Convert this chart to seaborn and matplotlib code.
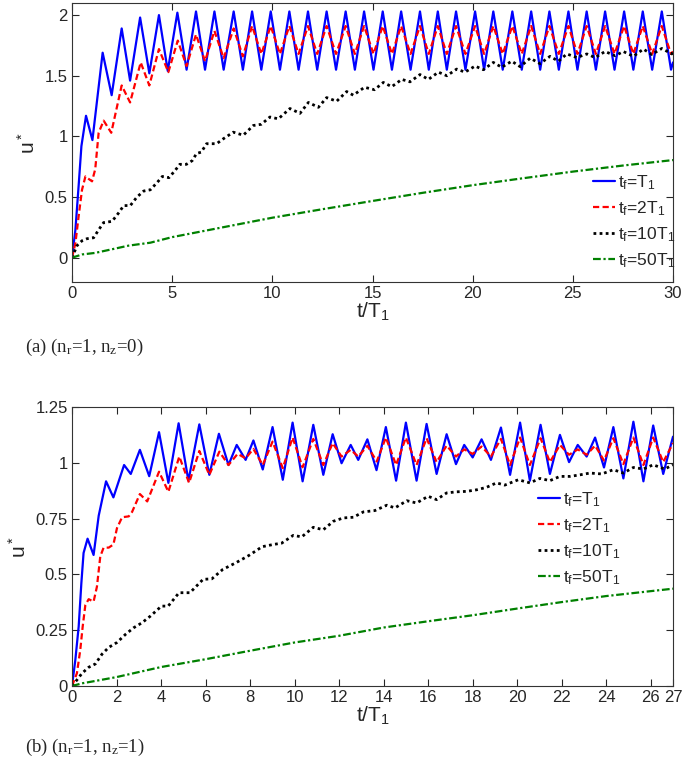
import matplotlib
matplotlib.use("Agg")
import matplotlib.pyplot as plt
import seaborn as sns

# ---- panel (a): n_r=1, n_z=0 ----
ta_blue = [0, 0.17, 0.33, 0.47, 0.70, 1.02, 1.53, 1.98, 2.48, 2.90, 3.40, 3.86, 4.34, 4.78, 5.26, 5.72,
           6.19, 6.64, 7.11, 7.57, 8.07, 8.53, 8.99, 9.45, 9.92, 10.38, 10.85, 11.31, 11.78, 12.24,
           12.71, 13.18, 13.66, 14.12, 14.58, 15.05, 15.51, 15.97, 16.43, 16.90, 17.37, 17.81, 18.26,
           18.71, 19.17, 19.64, 20.12, 20.57, 21.03, 21.50, 21.98, 22.45, 22.92, 23.37, 23.83, 24.30,
           24.78, 25.23, 25.69, 26.15, 26.61, 27.08, 27.56, 28.02, 28.49, 28.96, 29.44, 29.90, 30.0]
ua_blue = [0, 0.23, 0.59, 0.92, 1.17, 0.97, 1.69, 1.34, 1.89, 1.46, 1.98, 1.52, 2.00, 1.54, 2.02, 1.55,
           2.03, 1.55, 2.03, 1.55, 2.03, 1.55, 2.03, 1.55, 2.03, 1.55, 2.03, 1.55, 2.03, 1.55,
           2.03, 1.55, 2.03, 1.55, 2.03, 1.55, 2.03, 1.55, 2.03, 1.55, 2.03, 1.55, 2.03,
           1.55, 2.03, 1.55, 2.03, 1.55, 2.03, 1.55, 2.03, 1.55, 2.03, 1.55, 2.03, 1.55,
           2.03, 1.55, 2.03, 1.55, 2.03, 1.55, 2.03, 1.55, 2.03, 1.55, 2.03, 1.55, 1.61]

ta_red = [0, 0.17, 0.33, 0.50, 0.67, 0.83, 1.00, 1.16, 1.33, 1.58, 1.96, 2.48, 2.90, 3.43, 3.86, 4.34,
          4.81, 5.28, 5.72, 6.19, 6.64, 7.11, 7.57, 8.07, 8.53, 8.99, 9.45, 9.92, 10.38, 10.85, 11.31,
          11.78, 12.24, 12.71, 13.18, 13.66, 14.12, 14.58, 15.05, 15.51, 15.97, 16.43, 16.90, 17.37,
          17.81, 18.26, 18.71, 19.17, 19.64, 20.12, 20.57, 21.03, 21.50, 21.98, 22.45, 22.92, 23.37,
          23.83, 24.30, 24.78, 25.23, 25.69, 26.15, 26.61, 27.08, 27.56, 28.02, 28.49, 28.96, 29.44,
          29.90, 30.0]
ua_red = [0, 0.12, 0.34, 0.56, 0.67, 0.65, 0.63, 0.73, 1.03, 1.13, 1.03, 1.42, 1.28, 1.61, 1.42, 1.72,
          1.53, 1.79, 1.58, 1.84, 1.62, 1.87, 1.645, 1.89, 1.66, 1.91, 1.68, 1.91, 1.68, 1.91, 1.68,
          1.91, 1.68, 1.91, 1.68, 1.91, 1.68, 1.91, 1.68, 1.91, 1.68, 1.91, 1.68, 1.91,
          1.68, 1.91, 1.68, 1.91, 1.68, 1.91, 1.68, 1.91, 1.68, 1.91, 1.68, 1.91, 1.68,
          1.91, 1.68, 1.91, 1.68, 1.91, 1.68, 1.91, 1.68, 1.91, 1.68, 1.91, 1.68, 1.91,
          1.68, 1.70]

ta_black = [0, 0.25, 0.50, 0.75, 1.08, 1.33, 1.58, 2.00, 2.33, 2.58, 2.91, 3.24, 3.58, 3.91, 4.25, 4.51,
            4.84, 5.15, 5.38, 5.71, 6.00, 6.22, 6.45, 6.72, 7.22, 7.55, 8.05, 8.55, 9.05, 9.45, 9.88,
            10.30, 10.88, 11.38, 11.80, 12.30, 12.71, 13.21, 13.71, 14.04, 14.60, 15.10, 15.54, 15.96,
            16.46, 16.87, 17.37, 17.79, 18.29, 18.71, 19.20, 19.62, 20.12, 20.53, 21.03, 21.45, 21.95,
            22.37, 22.87, 23.36, 23.86, 24.28, 24.70, 25.20, 25.70, 26.11, 26.61, 27.11, 27.52, 28.02,
            28.52, 28.94, 29.44, 29.94, 30.0]
ua_black = [0, 0.10, 0.14, 0.157, 0.165, 0.23, 0.29, 0.30, 0.37, 0.43, 0.43, 0.50, 0.55, 0.56, 0.62, 0.67,
            0.66, 0.72, 0.77, 0.77, 0.80, 0.86, 0.87, 0.94, 0.94, 0.98, 1.035, 1.01, 1.09, 1.10, 1.16,
            1.145, 1.23, 1.19, 1.28, 1.24, 1.32, 1.29, 1.37, 1.34, 1.405, 1.385, 1.445, 1.41,
            1.47, 1.45, 1.51, 1.47, 1.53, 1.50, 1.555, 1.53, 1.58, 1.55, 1.61, 1.57, 1.62,
            1.575, 1.645, 1.60, 1.66, 1.62, 1.68, 1.65, 1.68, 1.65, 1.70, 1.665, 1.70, 1.66,
            1.72, 1.675, 1.725, 1.68, 1.69]

ta_green = [0, 0.5, 1.16, 2.0, 2.83, 3.91, 5, 7.5, 10, 12.5, 15, 17.5, 20, 22.5, 25, 27.5, 30]
ua_green = [0, 0.027, 0.04, 0.07, 0.10, 0.124, 0.17, 0.25, 0.33, 0.40, 0.468, 0.535, 0.598, 0.655, 0.71, 0.76, 0.805]

# ---- panel (b): n_r=1, n_z=1 ----
tb_blue = [0, 0.15, 0.30, 0.42, 0.52, 0.70, 0.97, 1.20, 1.53, 1.86, 2.34, 2.64, 3.05, 3.47, 3.91, 4.33,
           4.79, 5.23, 5.72, 6.17, 6.60, 7.03, 7.40, 7.80, 8.15, 8.57, 9.01, 9.47, 9.91, 10.36, 10.84,
           11.29, 11.71, 12.11, 12.52, 12.86, 13.27, 13.68, 14.10, 14.56, 15.00, 15.48, 15.93, 16.38,
           16.83, 17.25, 17.62, 18.00, 18.40, 18.82, 19.27, 19.68, 20.13, 20.57, 21.05, 21.47, 21.92,
           22.33, 22.72, 23.12, 23.50, 23.90, 24.32, 24.77, 25.22, 25.67, 26.11, 26.56, 27.0]
ub_blue = [0, 0.117, 0.266, 0.46, 0.596, 0.66, 0.587, 0.763, 0.917, 0.845, 0.99, 0.95, 1.058, 0.94, 1.137, 0.91,
           1.177, 0.92, 1.172, 0.946, 1.13, 0.99, 1.08, 1.013, 1.10, 0.97, 1.16, 0.924, 1.18, 0.917, 1.17,
           0.946, 1.128, 0.998, 1.08, 1.013, 1.105, 0.967, 1.16, 0.92, 1.18, 0.92, 1.174, 0.95,
           1.128, 0.994, 1.08, 1.024, 1.105, 1.013, 1.158, 0.946, 1.18, 0.92, 1.17, 0.95, 1.125,
           1.003, 1.08, 1.028, 1.113, 0.979, 1.16, 0.93, 1.184, 0.917, 1.167, 0.95, 1.117]

tb_red = [0, 0.22, 0.37, 0.48, 0.60, 0.75, 0.97, 1.12, 1.27, 1.42, 1.65, 1.86, 2.02, 2.25, 2.55, 2.70,
          3.05, 3.38, 3.91, 4.33, 4.82, 5.26, 5.72, 6.17, 6.62, 7.03, 7.44, 7.80, 8.15, 8.57, 9.01,
          9.47, 9.91, 10.36, 10.84, 11.29, 11.71, 12.11, 12.52, 12.86, 13.27, 13.69, 14.10, 14.56,
          15.00, 15.48, 15.93, 16.38, 16.83, 17.25, 17.62, 18.00, 18.40, 18.82, 19.27, 19.68, 20.13,
          20.57, 21.05, 21.47, 21.92, 22.33, 22.72, 23.12, 23.50, 23.90, 24.32, 24.77, 25.22, 25.67,
          26.11, 26.56, 27.0]
ub_red = [0, 0.057, 0.16, 0.266, 0.363, 0.389, 0.378, 0.445, 0.58, 0.62, 0.62, 0.634, 0.707, 0.756, 0.76, 0.78,
          0.86, 0.827, 0.96, 0.87, 1.028, 0.91, 1.053, 0.946, 1.05, 0.99, 1.04, 1.02, 1.062, 0.99, 1.095,
          0.976, 1.113, 0.98, 1.107, 0.99, 1.088, 1.028, 1.058, 1.028, 1.076, 1.006, 1.113, 0.99,
          1.113, 0.99, 1.11, 1.003, 1.077, 1.028, 1.06, 1.04, 1.073, 1.028, 1.107, 0.99, 1.113,
          0.99, 1.11, 1.003, 1.08, 1.036, 1.06, 1.036, 1.077, 1.01, 1.11, 0.994, 1.113, 0.99,
          1.113, 1.003, 1.088]

tb_black = [0, 0.22, 0.45, 0.75, 1.05, 1.35, 1.65, 2.02, 2.40, 2.77, 3.14, 3.52, 4.02, 4.32, 4.81, 5.30,
            5.89, 6.28, 6.77, 7.36, 7.95, 8.54, 9.04, 9.42, 9.94, 10.32, 10.84, 11.29, 11.74, 12.19,
            12.64, 13.09, 13.61, 14.14, 14.51, 15.04, 15.48, 16.0, 16.38, 16.83, 17.28, 17.73, 18.18,
            18.62, 19.07, 19.44, 20.05, 20.57, 21.02, 21.47, 21.92, 22.37, 22.82, 23.27, 23.80, 24.32,
            24.77, 25.22, 25.67, 26.11, 26.63, 27.0]
ub_black = [0, 0.027, 0.057, 0.084, 0.099, 0.143, 0.173, 0.195, 0.231, 0.261, 0.283, 0.313, 0.358, 0.358, 0.418, 0.418,
            0.478, 0.48, 0.522, 0.552, 0.585, 0.624, 0.634, 0.64, 0.675, 0.668, 0.711, 0.70, 0.738, 0.753,
            0.756, 0.78, 0.786, 0.81, 0.798, 0.83, 0.82, 0.85, 0.835, 0.865, 0.87, 0.872, 0.879,
            0.89, 0.91, 0.90, 0.924, 0.91, 0.93, 0.92, 0.939, 0.939, 0.946, 0.954, 0.95, 0.969,
            0.954, 0.979, 0.972, 0.991, 0.972, 0.991]

tb_green = [0, 0.45, 0.9, 2, 4, 6, 8, 10, 12, 14, 16, 18, 20, 22, 24, 26, 27]
ub_green = [0, 0.012, 0.02, 0.04, 0.085, 0.12, 0.158, 0.195, 0.225, 0.262, 0.29, 0.317, 0.347, 0.376, 0.403, 0.425, 0.436]

labels = ["t$_f$=T$_1$", "t$_f$=2T$_1$", "t$_f$=10T$_1$", "t$_f$=50T$_1$"]

sns.set_style("ticks")
plt.rcParams["font.family"] = ["Liberation Sans", "DejaVu Sans"]
plt.rcParams["mathtext.default"] = "regular"
plt.rcParams["xtick.direction"] = "in"
plt.rcParams["ytick.direction"] = "in"
plt.rcParams["xtick.top"] = True
plt.rcParams["ytick.right"] = True
plt.rcParams["axes.edgecolor"] = "#333333"

fig = plt.figure(figsize=(6.85, 7.63), dpi=100)
ax1 = fig.add_axes([0.1051, 0.6304, 0.8774, 0.3657])
ax2 = fig.add_axes([0.1051, 0.1009, 0.8774, 0.3657])


def draw(ax, t, u, color, ls, lab, lw=1.6):
    sns.lineplot(x=t, y=u, ax=ax, color=color, linestyle=ls, linewidth=lw, label=lab,
                 sort=False, estimator=None, solid_joinstyle="round", dash_joinstyle="round")


for ax, curves in [(ax1, [(ta_blue, ua_blue), (ta_red, ua_red), (ta_black, ua_black), (ta_green, ua_green)]),
                   (ax2, [(tb_blue, ub_blue), (tb_red, ub_red), (tb_black, ub_black), (tb_green, ub_green)])]:
    draw(ax, *curves[0], "#0000ff", "-", labels[0])
    draw(ax, *curves[1], "#ff0000", (0, (2.8, 1.5)), labels[1])
    draw(ax, *curves[2], "black", (0, (1, 1.2)), labels[2], lw=2)
    draw(ax, *curves[3], "#008000", (0, (3.5, 1.2, 1, 1.2)), labels[3])
    ax.set_xlabel("t/T$_1$", fontsize=15, labelpad=0)
    ax.set_ylabel("u$^*$", fontsize=15, labelpad=4)
    ax.tick_params(labelsize=12, length=5, width=0.8, pad=3)

ax1.set_xlim(0, 30)
ax1.set_ylim(-0.2, 2.1)
ax1.set_xticks([0, 5, 10, 15, 20, 25, 30])
ax1.set_yticks([0, 0.5, 1, 1.5, 2])
ax1.set_yticklabels(["0", "0.5", "1", "1.5", "2"])

ax2.set_xlim(0, 27)
ax2.set_ylim(0, 1.25)
ax2.set_xticks([0, 2, 4, 6, 8, 10, 12, 14, 16, 18, 20, 22, 24, 26, 27])
ax2.set_yticks([0, 0.25, 0.5, 0.75, 1, 1.25])
ax2.set_yticklabels(["0", "0.25", "0.5", "0.75", "1", "1.25"])

ax1.legend(loc="upper left", bbox_to_anchor=(0.867, 0.389), frameon=False, fontsize=12.5,
           handlelength=1.27, handletextpad=0.18, labelspacing=0.42, borderpad=0, borderaxespad=0)
ax2.legend(loc="upper left", bbox_to_anchor=(0.775, 0.703), frameon=False, fontsize=12.5,
           handlelength=1.27, handletextpad=0.18, labelspacing=0.42, borderpad=0, borderaxespad=0)

fig.text(25 / 685, 1 - 347 / 763, "(a) (n$_r$=1, n$_z$=0)", family="Liberation Serif",
         fontsize=13.5, va="center")
fig.text(25 / 685, 1 - 747 / 763, "(b) (n$_r$=1, n$_z$=1)", family="Liberation Serif",
         fontsize=13.5, va="center")

fig.savefig("out.png", dpi=100)
